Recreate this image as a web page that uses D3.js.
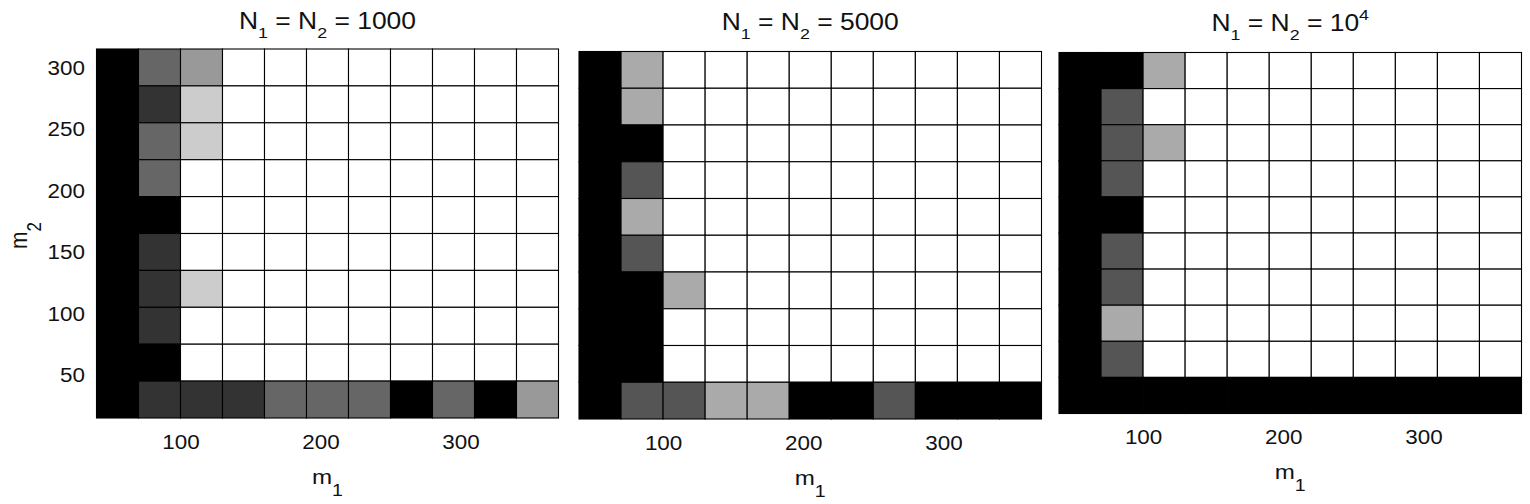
<!DOCTYPE html>
<html>
<head>
<meta charset="utf-8">
<script src="https://cdn.jsdelivr.net/npm/d3@7"></script>
<style>
  body { margin: 0; background: #fff; }
  svg text { font-family: "Liberation Sans", Arial, sans-serif; fill: #111; }
</style>
</head>
<body>
<svg id="chart" width="1530" height="504"></svg>
<script>
// m1 (columns) and m2 (rows, top to bottom)
var m1Values = [55, 85, 115, 145, 175, 205, 235, 265, 295, 325, 355];
var m2Values = [300, 270, 240, 210, 180, 150, 120, 90, 60, 30];
var xTicks = [100, 200, 300];
var yTicks = [50, 100, 150, 200, 250, 300];

// panel titles: N1 = N2 = value (with optional exponent)
var titleValues = ["1000", "5000", "10"];
var titleExponents = [null, null, "4"];

// success counts per cell, rows follow m2Values, columns follow m1Values
var levelMax = [5, 3, 3];
var levels1000 = [
  [0, 2, 3, 5, 5, 5, 5, 5, 5, 5, 5],
  [0, 1, 4, 5, 5, 5, 5, 5, 5, 5, 5],
  [0, 2, 4, 5, 5, 5, 5, 5, 5, 5, 5],
  [0, 2, 5, 5, 5, 5, 5, 5, 5, 5, 5],
  [0, 0, 5, 5, 5, 5, 5, 5, 5, 5, 5],
  [0, 1, 5, 5, 5, 5, 5, 5, 5, 5, 5],
  [0, 1, 4, 5, 5, 5, 5, 5, 5, 5, 5],
  [0, 1, 5, 5, 5, 5, 5, 5, 5, 5, 5],
  [0, 0, 5, 5, 5, 5, 5, 5, 5, 5, 5],
  [0, 1, 1, 1, 2, 2, 2, 0, 2, 0, 3]
];
var levels5000 = [
  [0, 2, 3, 3, 3, 3, 3, 3, 3, 3, 3],
  [0, 2, 3, 3, 3, 3, 3, 3, 3, 3, 3],
  [0, 0, 3, 3, 3, 3, 3, 3, 3, 3, 3],
  [0, 1, 3, 3, 3, 3, 3, 3, 3, 3, 3],
  [0, 2, 3, 3, 3, 3, 3, 3, 3, 3, 3],
  [0, 1, 3, 3, 3, 3, 3, 3, 3, 3, 3],
  [0, 0, 2, 3, 3, 3, 3, 3, 3, 3, 3],
  [0, 0, 3, 3, 3, 3, 3, 3, 3, 3, 3],
  [0, 0, 3, 3, 3, 3, 3, 3, 3, 3, 3],
  [0, 1, 1, 2, 2, 0, 0, 1, 0, 0, 0]
];
var levels10k = [
  [0, 0, 2, 3, 3, 3, 3, 3, 3, 3, 3],
  [0, 1, 3, 3, 3, 3, 3, 3, 3, 3, 3],
  [0, 1, 2, 3, 3, 3, 3, 3, 3, 3, 3],
  [0, 1, 3, 3, 3, 3, 3, 3, 3, 3, 3],
  [0, 0, 3, 3, 3, 3, 3, 3, 3, 3, 3],
  [0, 1, 3, 3, 3, 3, 3, 3, 3, 3, 3],
  [0, 1, 3, 3, 3, 3, 3, 3, 3, 3, 3],
  [0, 2, 3, 3, 3, 3, 3, 3, 3, 3, 3],
  [0, 1, 3, 3, 3, 3, 3, 3, 3, 3, 3],
  [0, 0, 0, 0, 0, 0, 0, 0, 0, 0, 0]
];
var panelLevels = [levels1000, levels5000, levels10k];

// layout of the three axes boxes (pixels)
var boxes = [
  {x0: 96.5, x1: 558.5, y0: 49, y1: 418, tb: 28.5},
  {x0: 579, x1: 1041.5, y0: 51.5, y1: 419, tb: 29.5},
  {x0: 1059, x1: 1521.5, y0: 52.5, y1: 413.5, tb: 30.5}
];
var sx = 1.15;   // text looks horizontally stretched in the picture

var svg = d3.select("#chart");

function richText(g, parts, size, subSize) {
  var t = g.append("text").attr("text-anchor", "middle").style("font-size", size + "px");
  var shift = 0;
  parts.forEach(function (p) {
    var target = p.sub ? 9 : (p.sup ? -11 : 0);
    if (p.axisSub) target = 12;
    t.append("tspan")
      .attr("dy", target - shift)
      .style("font-size", (p.sub || p.sup || p.axisSub ? subSize : size) + "px")
      .text(p.t);
    shift = target;
  });
  return t;
}

boxes.forEach(function (b, k) {
  var levels = panelLevels[k], maxLevel = levelMax[k];
  var x = d3.scaleLinear().domain([40, 370]).range([b.x0, b.x1]);
  var y = d3.scaleLinear().domain([15, 315]).range([b.y1, b.y0]);
  var half = 15;
  var g = svg.append("g");

  var cells = [];
  levels.forEach(function (row, i) {
    row.forEach(function (v, j) {
      cells.push({m1: m1Values[j], m2: m2Values[i], v: v});
    });
  });

  g.selectAll("rect").data(cells).enter().append("rect")
    .attr("x", d => x(d.m1 - half))
    .attr("y", d => y(d.m2 + half))
    .attr("width", d => x(d.m1 + half) - x(d.m1 - half))
    .attr("height", d => y(d.m2 - half) - y(d.m2 + half))
    .attr("fill", function (d) {
      var c = Math.round(255 * d.v / maxLevel);
      return d3.rgb(c, c, c);
    })
    .attr("stroke", "#000")
    .attr("stroke-width", 1.1);

  // x axis
  var xa = g.append("g").attr("transform", "translate(0," + b.y1 + ")")
    .call(d3.axisBottom(x).tickValues(xTicks).tickSize(0).tickFormat(d3.format("d")));
  xa.select(".domain").remove();
  xa.selectAll("text").attr("y", 31).attr("dy", null)
    .attr("transform", "scale(" + sx + ",1)")
    .style("font-size", "19.5px").attr("fill", "#111");

  // y axis only on the first panel
  if (k === 0) {
    var ya = g.append("g").attr("transform", "translate(" + b.x0 + ",0)")
      .call(d3.axisLeft(y).tickValues(yTicks).tickSize(0).tickFormat(d3.format("d")));
    ya.select(".domain").remove();
    ya.selectAll("text").attr("x", -11.5 / sx).attr("dy", "0.35em")
      .attr("transform", "scale(" + sx + ",1)")
      .style("font-size", "19.5px").attr("fill", "#111");

    var yl = richText(g, [{t: "m"}, {t: "2", axisSub: true}], 21, 17);
    yl.attr("transform", "translate(27," + ((b.y0 + b.y1) / 2 + 2) + ") scale(" + sx + ",1) rotate(-90)");
  }

  // x label
  var xl = richText(g, [{t: "m"}, {t: "1", axisSub: true}], 21, 17);
  xl.attr("transform", "translate(" + ((b.x0 + b.x1) / 2) + "," + (b.y1 + 65.5) + ") scale(" + sx + ",1)");

  // title
  var parts = [{t: "N"}, {t: "1", sub: true}, {t: " = N"}, {t: "2", sub: true}, {t: " = " + titleValues[k]}];
  if (titleExponents[k]) parts.push({t: titleExponents[k], sup: true});
  var tt = richText(g, parts, 23, 15.5);
  tt.attr("transform", "translate(" + ((b.x0 + b.x1) / 2) + "," + b.tb + ") scale(" + sx + ",1)");
});
</script>
</body>
</html>
